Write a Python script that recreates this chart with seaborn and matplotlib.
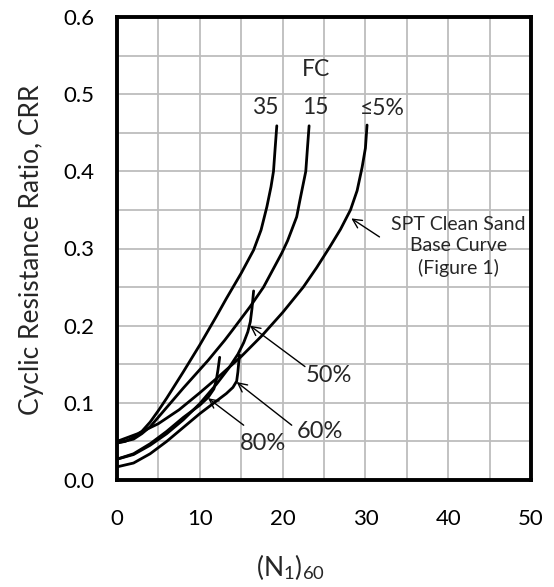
import matplotlib
matplotlib.use("Agg")
import matplotlib.pyplot as plt
import numpy as np
import pandas as pd
import seaborn as sns
from matplotlib.ticker import MultipleLocator, FormatStrFormatter

sns.set_theme(style="white")
plt.rcParams["font.family"] = ["Lato", "DejaVu Sans"]
plt.rcParams["mathtext.fontset"] = "custom"
plt.rcParams["mathtext.rm"] = "Lato"
plt.rcParams["mathtext.it"] = "Lato:italic"

# CRR curves versus (N1)60 for several fines contents
n_fc35 = [0, 1, 2, 3, 4, 5, 6, 8, 10, 12, 13.2, 15, 16.5, 17.4, 18.1, 18.6, 18.9, 19.1, 19.3]
crr_fc35 = [0.048, 0.05, 0.055, 0.063, 0.075, 0.09, 0.106, 0.14, 0.175, 0.212, 0.235, 0.268,
            0.298, 0.324, 0.354, 0.38, 0.40, 0.43, 0.459]

n_fc15 = [0, 2, 3, 4, 6, 8, 10, 11, 12, 13, 14, 16.1, 17.7, 19.9, 20.6, 21.1, 21.7, 22.1,
          22.8, 23.0, 23.2]
crr_fc15 = [0.048, 0.053, 0.06, 0.069, 0.094, 0.119, 0.143, 0.155, 0.168, 0.181, 0.195,
            0.225, 0.25, 0.294, 0.31, 0.324, 0.341, 0.363, 0.40, 0.43, 0.459]

n_fc5 = [0, 2.5, 5, 7.5, 10, 12.5, 15, 17.5, 20, 22.5, 24.1, 25.7, 27, 28.2, 29, 29.6, 30, 30.2]
crr_fc5 = [0.05, 0.06, 0.073, 0.091, 0.113, 0.136, 0.16, 0.187, 0.217, 0.25, 0.275, 0.302,
           0.325, 0.35, 0.375, 0.405, 0.43, 0.46]

n_fc50 = [0, 2, 4, 6, 8, 10, 12, 13.5, 14.6, 15.3, 15.8, 16.1, 16.3, 16.5]
crr_fc50 = [0.027, 0.033, 0.045, 0.06, 0.078, 0.099, 0.124, 0.145, 0.163, 0.178, 0.192,
            0.205, 0.222, 0.245]

n_fc60 = [0, 2, 4, 6, 8, 10, 11.6, 13.2, 14.0, 14.45, 14.6, 14.7, 14.8]
crr_fc60 = [0.017, 0.022, 0.034, 0.05, 0.068, 0.086, 0.099, 0.112, 0.12, 0.128, 0.14,
            0.152, 0.162]

n_fc80 = [0, 2, 4, 6, 8, 10, 11, 11.7, 12.0, 12.2, 12.4]
crr_fc80 = [0.027, 0.034, 0.047, 0.063, 0.081, 0.097, 0.107, 0.118, 0.13, 0.143, 0.159]

curve_names = ["35", "15", "5", "50", "60", "80"]
curve_n = [n_fc35, n_fc15, n_fc5, n_fc50, n_fc60, n_fc80]
curve_crr = [crr_fc35, crr_fc15, crr_fc5, crr_fc50, crr_fc60, crr_fc80]

df = pd.concat(
    [pd.DataFrame({"N1_60": n, "CRR": c, "curve": name})
     for name, n, c in zip(curve_names, curve_n, curve_crr)],
    ignore_index=True,
)

x_ticks = [0, 10, 20, 30, 40, 50]
y_ticks = [0.0, 0.1, 0.2, 0.3, 0.4, 0.5, 0.6]

fig = plt.figure(figsize=(5.54, 5.87), dpi=100)
ax = fig.add_axes([117 / 554, 1 - 480 / 587, 414 / 554, 463 / 587])

sns.lineplot(data=df, x="N1_60", y="CRR", units="curve", estimator=None, sort=False,
             color="black", lw=2.0, ax=ax, legend=False)

ax.set_xlim(0, 50)
ax.set_ylim(0, 0.6)
ax.set_xticks(x_ticks)
ax.set_yticks(y_ticks)
ax.xaxis.set_minor_locator(MultipleLocator(5))
ax.yaxis.set_minor_locator(MultipleLocator(0.05))
ax.yaxis.set_major_formatter(FormatStrFormatter("%.1f"))
ax.grid(which="both", color="#bdbdbd", lw=1.3)
ax.set_axisbelow(True)
ax.tick_params(which="major", direction="in", length=6, width=2, color="black",
               labelsize=16, labelcolor="black")
ax.tick_params(axis="x", which="major", pad=21)
ax.tick_params(axis="y", which="major", pad=16)
ax.tick_params(which="minor", length=0)
for s in ax.spines.values():
    s.set_visible(True)
    s.set_color("black")
    s.set_linewidth(2.8)

ax.set_xlabel("")
ax.set_ylabel("")
fig.text(290 / 554, 1 - 567 / 587, r"(N$_1$)$_{60}$", ha="center", va="center", fontsize=19)
fig.text(32 / 554, 1 - 250 / 587, "Cyclic Resistance Ratio, CRR", rotation=90,
         ha="center", va="center", fontsize=19)

# Curve labels
ax.text(24.0, 0.532, "FC", ha="center", va="center", fontsize=16.5)
ax.text(17.96, 0.483, "35", ha="center", va="center", fontsize=16.5)
ax.text(23.9, 0.483, "15", ha="center", va="center", fontsize=16.5)
ax.text(32.1, 0.482, "\u22645%", ha="center", va="center", fontsize=16.5)

arrow = dict(arrowstyle="->", color="black", lw=1.0, shrinkA=0, shrinkB=0,
             mutation_scale=16)
ax.annotate("", xy=(16.06, 0.200), xytext=(22.7, 0.147), arrowprops=arrow)
ax.text(22.8, 0.136, "50%", ha="left", va="center", fontsize=17)
ax.annotate("", xy=(14.45, 0.127), xytext=(21.1, 0.071), arrowprops=arrow)
ax.text(21.7, 0.063, "60%", ha="left", va="center", fontsize=17)
ax.annotate("", xy=(11.0, 0.106), xytext=(15.3, 0.071), arrowprops=arrow)
ax.text(14.8, 0.047, "80%", ha="left", va="center", fontsize=17)
ax.annotate("", xy=(28.3, 0.339), xytext=(31.7, 0.315), arrowprops=arrow)
ax.text(41.2, 0.303, "SPT Clean Sand\nBase Curve\n(Figure 1)", ha="center", va="center",
        fontsize=14, linespacing=1.3)

fig.savefig("out.png", dpi=100)
